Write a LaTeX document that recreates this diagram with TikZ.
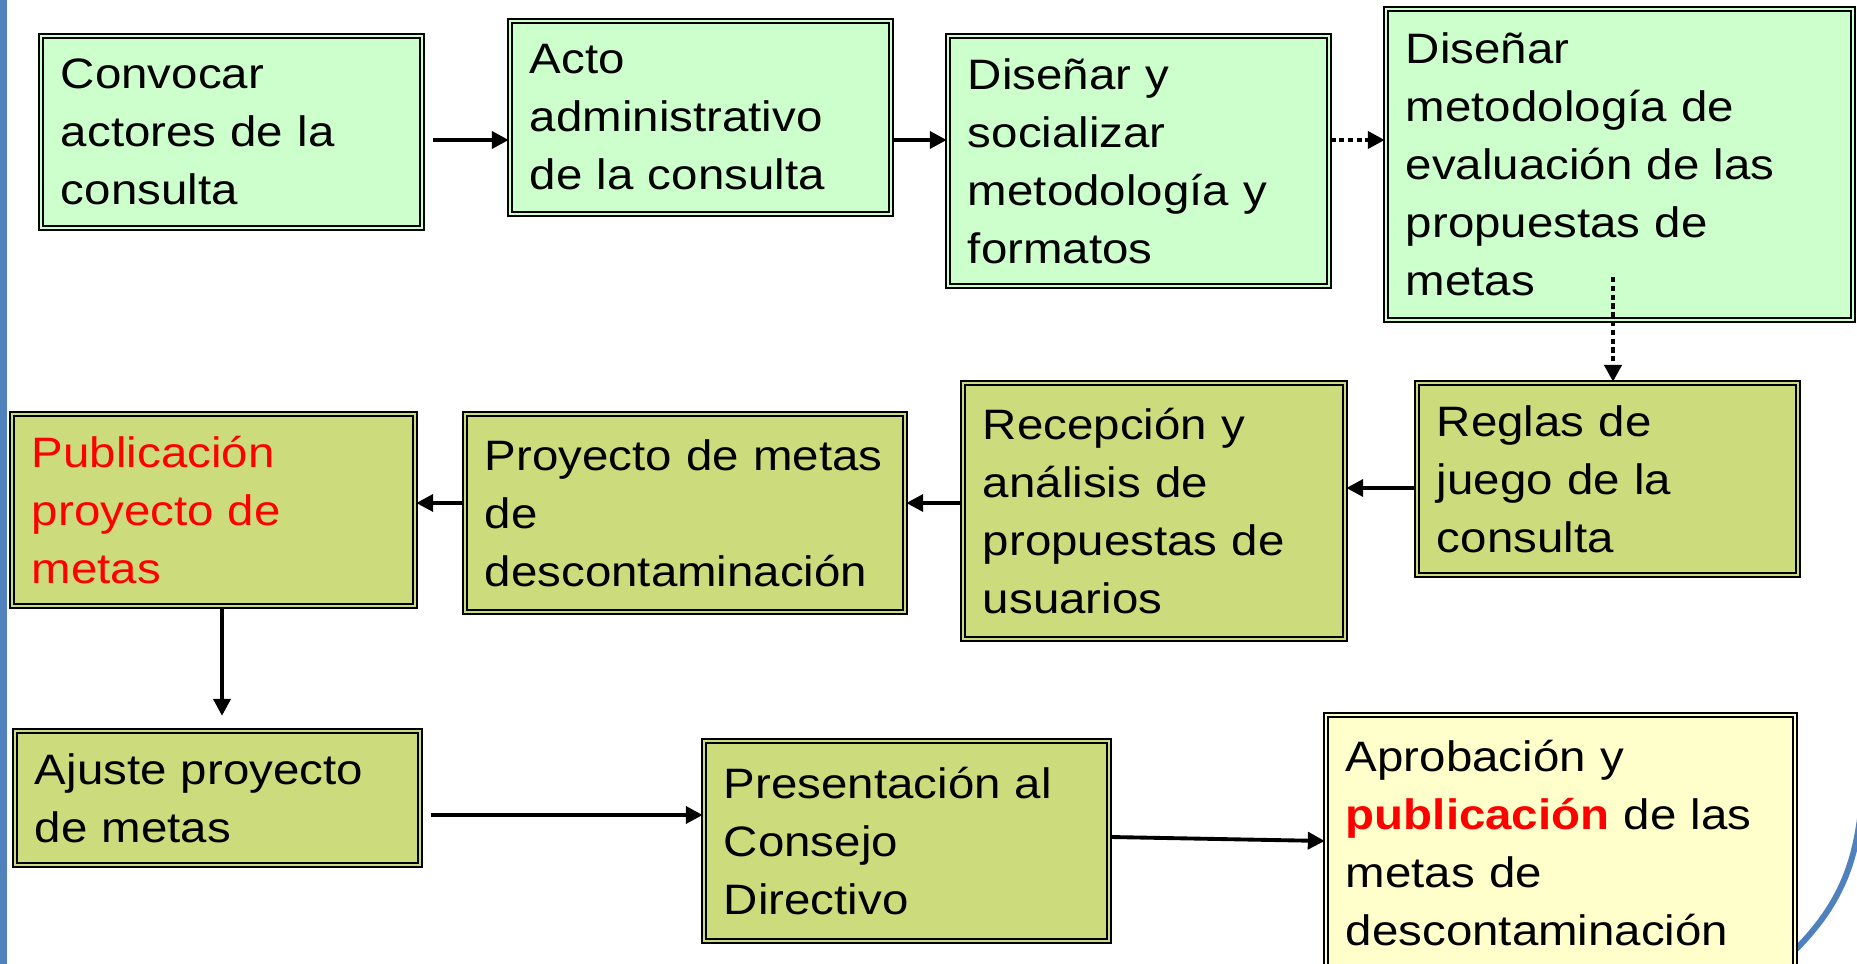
\documentclass[tikz,border=0pt]{standalone}
\usepackage{fontspec}
\setmainfont{Liberation Sans}[FakeStretch=1.115]
\usetikzlibrary{arrows, positioning, calc, arrows.meta}
\definecolor{verdeclaro}{HTML}{CCFFCC}
\definecolor{oliva}{HTML}{CCDC7C}
\definecolor{amarillo}{HTML}{FFFFCC}
\definecolor{azul}{HTML}{4F81BD}
\tikzset{
    %Define standard arrow tip
    >={Triangle[length=4.8pt,width=4.8pt]},
    %Define style for boxes
    caja/.style={
           rectangle,
           draw=black, line width=0.65pt,
           double distance=0.55pt,
           inner xsep=0.2cm,
           align=left,
           font=\fontsize{12.1}{16.5}\selectfont},
    verde/.style={caja, fill=verdeclaro, double=verdeclaro},
    olivo/.style={caja, fill=oliva, double=oliva},
    amarilla/.style={caja, fill=amarillo, double=amarillo},
    % Define arrow style
    flecha/.style={
           ->,
           line width=1.1pt},
    punteada/.style={
           flecha,
           line width=1.2pt,
           dash pattern=on 1.5pt off 1pt}
}

\begin{document}
\begin{tikzpicture}[x=0.01cm, y=-0.01cm]
	\useasboundingbox (0,0) rectangle (1857,964);
	\fill[azul] (0,0) rectangle (7,964);
	\draw[azul, line width=1.7pt] (1862,800) .. controls (1856,870) and (1836,912) .. (1785,960);
	%
	% cajas
	%
	\node[verde, text width=3.41cm, minimum height=1.92cm] (conv) at (231.5,132) {Convocar\\actores de la\\consulta};
	\node[verde, text width=3.41cm, minimum height=1.93cm] (acto) at (700.5,117.5) {Acto\\administrativo\\de la consulta};
	\node[verde, text width=3.41cm, minimum height=2.50cm] (disen) at (1138.5,161) {Diseñar y\\socializar\\metodología y\\formatos};
	\node[verde, text width=4.27cm, minimum height=3.11cm] (metod) at (1619.5,164.5) {Diseñar\\metodología de\\evaluación de las\\propuestas de\\metas};
	\node[olivo, text width=3.41cm, minimum height=1.92cm] (reglas) at (1607.5,479) {Reglas de\\juego de la\\consulta};
	\node[olivo, text width=3.42cm, minimum height=2.56cm] (recep) at (1154,511) {Recepción y\\análisis de\\propuestas de\\usuarios};
	\node[olivo, text width=4.00cm, minimum height=1.98cm] (proy) at (685,513) {Proyecto de metas\\de\\descontaminación};
	\node[olivo, text=red, text width=3.63cm, minimum height=1.92cm] (publ) at (213.5,510) {Publicación\\proyecto de\\metas};
	\node[olivo, text width=3.65cm, minimum height=1.34cm] (ajuste) at (217.5,798) {Ajuste proyecto\\de metas};
	\node[olivo, text width=3.65cm, minimum height=2.00cm] (pres) at (906.5,841) {Presentación al\\Consejo\\Directivo};
	\node[amarilla, text width=4.29cm, minimum height=2.56cm] (aprob) at (1560.5,843) {Aprobación y\\{\color{red}\bfseries publicación} de las\\metas de\\descontaminación};
	%
	% flechas
	%
	\coordinate (m) at (1613,277);
	\draw[flecha, shorten <=0.1cm] (conv.east |- 0,140) -- (acto.west |- 0,140);
	\draw[flecha] (acto.east |- 0,140) -- (disen.west |- 0,140);
	\draw[punteada] (disen.east |- 0,140) -- (metod.west |- 0,140);
	\draw[punteada] (m) -- (reglas.north -| m);
	\draw[flecha] (reglas.west |- 0,488) -- (recep.east |- 0,488);
	\draw[flecha] (recep.west |- 0,503) -- (proy.east |- 0,503);
	\draw[flecha] (proy.west |- 0,503) -- (publ.east |- 0,503);
	\draw[flecha, shorten >=0.14cm] (publ.south -| 222,0) -- (ajuste.north -| 222,0);
	\draw[flecha, shorten <=0.1cm] (ajuste.east |- 0,815) -- (pres.west |- 0,815);
	\draw[flecha] (pres.east |- 0,837) -- (aprob.west |- 0,841);
\end{tikzpicture}
\end{document}
